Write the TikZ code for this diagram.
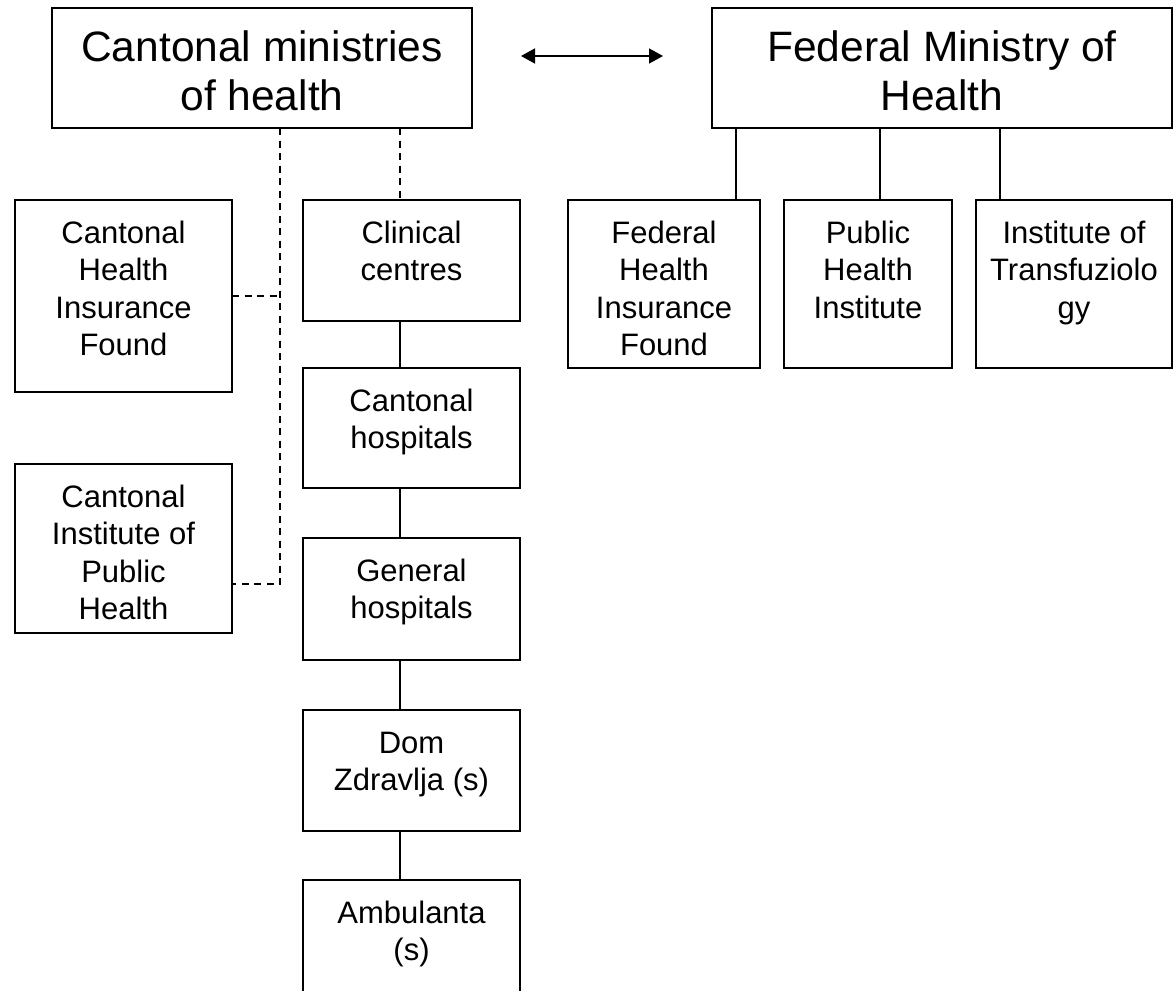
\documentclass[tikz,border=0pt]{standalone}
\usepackage{fontspec}
\setmainfont{Liberation Sans}
\usetikzlibrary{arrows.meta}
\newcommand\bigtxt[3]{\parbox[c][#2][t]{#1}{\centering\fontsize{42.5}{49}\selectfont\rule{0pt}{53pt}#3\par}}
\newcommand\smalltxt[3]{\parbox[c][#2][t]{#1}{\centering\fontsize{31}{37.5}\selectfont\rule{0pt}{43pt}#3\par}}
\begin{document}
\begin{tikzpicture}[x=1pt,y=-1pt,
  box/.style={draw, line width=1.5pt, inner sep=0pt, outer sep=0pt},
  link/.style={line width=1.5pt},
  dlink/.style={line width=1.5pt, dash pattern=on 7pt off 5.5pt},
  dbl/.style={line width=1.6pt, {Triangle[length=14pt,width=15pt]}-{Triangle[length=14pt,width=15pt]}}]
\useasboundingbox (0,0) rectangle (1174,990);
% top ministries
\node[box] (cmin) at (262,68) {\bigtxt{420pt}{120pt}{Cantonal ministries\\of health}};
\node[box] (fmin) at (942,68) {\bigtxt{460pt}{120pt}{Federal Ministry of\\Health}};
\coordinate (al) at (521,56);
\coordinate (ar) at (663,56);
\draw[dbl] (al) -- (ar);
% cantonal side
\node[box] (chif) at (123.5,296) {\smalltxt{217pt}{192pt}{Cantonal\\Health\\Insurance\\Found}};
\node[box] (cinst) at (123.5,548.5) {\smalltxt{217pt}{169pt}{Cantonal\\Institute of\\Public\\Health}};
\node[box] (clin) at (411.5,260.5) {\smalltxt{217pt}{121pt}{Clinical\\centres}};
\node[box] (chos) at (411.5,428) {\smalltxt{217pt}{120pt}{Cantonal\\hospitals}};
\node[box] (ghos) at (411.5,599) {\smalltxt{217pt}{122pt}{General\\hospitals}};
\node[box] (dom) at (411.5,770.5) {\smalltxt{217pt}{121pt}{Dom\\Zdravlja (s)}};
\node[box] (amb) at (411.5,940.5) {\smalltxt{217pt}{121pt}{Ambulanta\\(s)}};
% federal side
\node[box] (fhif) at (664,284) {\smalltxt{192pt}{168pt}{Federal\\Health\\Insurance\\Found}};
\node[box] (phi) at (868,284) {\smalltxt{168pt}{168pt}{Public\\Health\\Institute}};
\node[box] (itr) at (1074,284) {\smalltxt{196pt}{168pt}{Institute of\\Transfuziolo\\gy}};
% guide coordinates
\coordinate (dx) at (280,0);
\coordinate (cx) at (400,0);
\coordinate (dend) at (280,584);
\coordinate (f1) at (736,0);
\coordinate (f2) at (880,0);
\coordinate (f3) at (1000,0);
% dashed links
\draw[dlink] (cmin.south -| dx) -- (dend) -- (cinst.east |- dend);
\draw[dlink] (chif.east) -- (chif.east -| dx);
\draw[dlink] (cmin.south -| cx) -- (clin.north -| cx);
% solid chain
\draw[link] (clin.south -| cx) -- (chos.north -| cx);
\draw[link] (chos.south -| cx) -- (ghos.north -| cx);
\draw[link] (ghos.south -| cx) -- (dom.north -| cx);
\draw[link] (dom.south -| cx) -- (amb.north -| cx);
% federal links
\draw[link] (fmin.south -| f1) -- (fhif.north -| f1);
\draw[link] (fmin.south -| f2) -- (phi.north -| f2);
\draw[link] (fmin.south -| f3) -- (itr.north -| f3);
\end{tikzpicture}
\end{document}
